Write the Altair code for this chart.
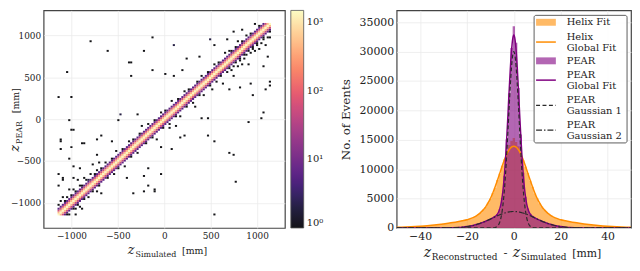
import altair as alt
import pandas as pd

FONT = "DejaVu Serif"

# ---------------- Left panel: 2D histogram z_PEAR vs z_Simulated ----------------
BIN_START = -1150
BIN_WIDTH = 23
N_BINS = 100
BAND_OFFSETS = [-3, -2, -1, 0, 1, 2, 3]
BAND_COUNTS = [6, 55, 480, 1400, 480, 55, 6]

FRINGE = [(0,5),(1,-5),(1,6),(2,-4),(2,7),(3,4),(3,-6),(4,5),(4,-4),(5,8),(5,-5),(6,4),(6,-7),
          (7,6),(7,-4),(8,4),(8,-5),(9,9),(9,-4),(10,5),(10,-6),(11,4),(11,-8),(12,7),(12,-4),
          (13,5),(14,-5),(14,4),(15,6),(16,-4),(16,10),(17,4),(18,-6),(18,5),(19,-4),(20,4),(20,-9),
          (22,5),(23,-4),(25,4),(26,-5),(27,6),(28,-4),(30,4),(31,-6),(33,5),(34,-4),(35,4),(37,-5),
          (38,4),(39,7),(41,-4),(42,5),(44,-4),(45,4),(46,-7),(48,5),(49,-4),(50,4),(52,-5),(53,6),
          (55,-4),(56,4),(57,-6),(59,5),(60,-4),(61,4),(63,-5),(64,-8),(65,4),(66,-4),(67,5),(68,-6),
          (70,4),(71,-4),(72,-7),(73,5),(74,-5),(75,4),(76,-4),(77,-9),(78,6),(79,-5),
          (80,-4),(80,5),(81,-6),(81,4),(82,-5),(82,-10),(83,4),(83,-4),(84,-7),(84,6),(85,-5),(85,-4),
          (86,4),(86,-8),(87,-4),(87,-6),(88,5),(88,-5),(89,-4),(89,-11),(90,4),(90,-6),(91,-5),(91,-4),
          (92,7),(92,-7),(93,-4),(93,-5),(94,4),(94,-8),(95,-6),(95,5),(96,-4),(96,-5),(97,4),(97,-9),
          (98,-6),(98,5),(99,-4),(99,-7)]

OUTLIER_X = [-791, -601, -383, -352, -360, -121, -117, -225, -1040, -1140, -1005, 100, 0, 100, 194,
             241, 383, 490, 546, 670, 753, 839, 925, 960, 1040, 1078, 1075, 1140, 1143, 1126, 915,
             749, 760, 466, 549, 540, 183, 69, -24, -104, -335, -221, -221, -497, -469, -563, -677,
             -718, -878, -1023, -967, -1008, -1029, -984, -1122, -1112, -1143, -1095, -909, -964,
             -808, -995, -1116, -863, -280, -477, -1150, -974, -1088, -725, -697, -442, -414, -166,
             -96, -173, 691, 805, 1081, 484, 96, 215, 413, 481, 130, 55, 710, -24]
OUTLIER_Y = [929, 812, 674, 674, 528, 973, 576, 827, 557, 273, 255, 896, 546, 528, 593,
             729, 746, 958, 893, 958, 1049, 1067, 430, 292, 22, 84, 631, 456, 412, 757, -44,
             -415, -747, -197, -273, -1130, -226, -346, -663, -852, -889, -689, -863, -11, 55, -262, -200,
             -244, -281, -19, -128, -325, -470, -561, -237, -364, -645, -718, -583, -1148,
             -718, -135, -262, -281, 58, 58, -790, -710, -700, -426, -517, -517, -707, -784,
             -838, -583, 347, 383, 347, 958, 893, -197, 3, 22, -80, -109, -412, -328]

cells = {}
for i in range(N_BINS):
    for off, c in zip(BAND_OFFSETS, BAND_COUNTS):
        j = i + off
        if 0 <= j < N_BINS:
            cells[(i, j)] = cells.get((i, j), 0) + c
for i, off in FRINGE:
    j = i + off
    if 0 <= j < N_BINS:
        cells[(i, j)] = cells.get((i, j), 0) + 1
for xv, yv in zip(OUTLIER_X, OUTLIER_Y):
    i = min(max(int((xv - BIN_START) // BIN_WIDTH), 0), N_BINS - 1)
    j = min(max(int((yv - BIN_START) // BIN_WIDTH), 0), N_BINS - 1)
    cells[(i, j)] = cells.get((i, j), 0) + 1

heat_df = pd.DataFrame([
    dict(x=BIN_START + i * BIN_WIDTH, x2=BIN_START + (i + 1) * BIN_WIDTH,
         y=BIN_START + j * BIN_WIDTH, y2=BIN_START + (j + 1) * BIN_WIDTH, count=c)
    for (i, j), c in cells.items()
])

LW, LH = 244, 220
lscale = alt.Scale(domain=[-1300, 1300], nice=False, zero=False)
heat = alt.Chart(heat_df).mark_rect(opacity=0.92).encode(
    x=alt.X("x:Q", scale=lscale, axis=alt.Axis(values=[-1000, -500, 0, 500, 1000], title=None,
                                                format="d", labelFontSize=9, labelPadding=4)),
    x2="x2:Q",
    y=alt.Y("y:Q", scale=lscale, axis=alt.Axis(values=[-1000, -500, 0, 500, 1000], title=None,
                                                format="d", labelFontSize=9, labelPadding=3)),
    y2="y2:Q",
    color=alt.Color("count:Q",
                    scale=alt.Scale(type="log", domain=[1, 1500], scheme="magma"),
                    legend=alt.Legend(title=None, orient="right", direction="vertical",
                                      gradientLength=LH, gradientThickness=13, offset=6,
                                      values=[1, 10, 100, 1000],
                                      labelExpr="datum.value == 1 ? '10⁰' : datum.value == 10 ? '10¹' : datum.value == 100 ? '10²' : '10³'",
                                      labelFont=FONT, labelFontSize=10, labelColor="#222",
                                      gradientStrokeColor="#444", gradientStrokeWidth=0.8,
                                      padding=0, labelOffset=3)),
)

one = pd.DataFrame({"a": [0]})


def txt(text, x, y, size, italic=False, angle=0, align="left"):
    kw = dict(text=text, font=FONT, fontSize=size, color="#222", align=align,
              baseline="alphabetic")
    if italic:
        kw["fontStyle"] = "italic"
    if angle:
        kw["angle"] = angle
    return alt.Chart(one).mark_text(**kw).encode(x=alt.value(x), y=alt.value(y))


lcx = LW / 2 + 3 - 40
lcy = LH / 2
left_titles = [
    txt("z", lcx, LH + 26, 13, italic=True),
    txt("Simulated", lcx + 8, LH + 29, 8),
    txt("[mm]", lcx + 55, LH + 26, 9.5),
    txt("z", -25, lcy + 33, 13, italic=True, angle=270),
    txt("PEAR", -22, lcy + 25, 8, angle=270),
    txt("[mm]", -25, lcy - 6, 9.5, angle=270),
]
left = alt.layer(heat, *left_titles).properties(width=LW, height=LH)

# ---------------- Right panel: residual histograms ----------------
HIST_X = list(range(-50, 51))
HELIX_HIST = [105, 128, 130, 148, 170, 178, 205, 215, 246, 260, 295, 315, 356, 380, 428, 452, 510, 540,
              600, 632, 700, 740, 812, 850, 935, 975, 1075, 1120, 1240, 1300, 1400, 1560, 1650, 1880,
              2050, 2380, 2650, 3150, 3550, 4300, 4950, 5950, 6850, 8150, 9200, 10600, 11700, 12900,
              14100, 14800, 15300, 14600, 13900, 12700, 11500, 10400, 9350, 8050, 7000, 5850, 5050,
              4200, 3650, 3080, 2720, 2330, 2100, 1830, 1700, 1520, 1430, 1310, 1230, 1130, 1070, 980,
              930, 850, 805, 740, 695, 635, 595, 540, 505, 455, 425, 380, 355, 318, 292, 262, 243, 218,
              202, 180, 167, 148, 137, 120, 112]
PEAR_HIST = [0, 0, 0, 0, 0, 0, 0, 0, 0, 0, 0, 0, 0, 0, 0,
             1, 2, 3, 5, 7, 11, 15, 22, 31, 43, 59, 80, 107, 141, 186, 237, 300, 378, 469, 590, 698,
             820, 988, 1170, 1327, 1490, 1690, 1930, 2330, 3180, 5150, 8900, 15100, 22900, 30600,
             34300,
             31500, 23800, 15900, 9400, 5300, 3300, 2400, 1990, 1740, 1530, 1340, 1160, 990, 850, 700,
             565, 470, 380, 300, 237, 186, 141, 107, 80, 59, 43, 31, 22, 15, 11, 7, 5, 3, 2, 1,
             0, 0, 0, 0, 0, 0, 0, 0, 0, 0, 0, 0, 0, 0, 0]

HELIX_FIT_X = [-50, -48, -46, -44, -42, -40, -38, -36, -34, -32, -30, -28, -26, -24, -22,
               -20, -19, -18, -17, -16, -15, -14, -13, -12, -11, -10, -9, -8, -7, -6, -5, -4, -3, -2, -1,
               0, 1, 2, 3, 4, 5, 6, 7, 8, 9, 10, 11, 12, 13, 14, 15, 16, 17, 18, 19, 20,
               22, 24, 26, 28, 30, 32, 34, 36, 38, 40, 42, 44, 46, 48, 50]
HELIX_FIT_Y = [110, 135, 165, 200, 240, 290, 350, 420, 500, 590, 690, 800, 920, 1060, 1220,
               1400, 1530, 1670, 1840, 2070, 2340, 2690, 3100, 3600, 4250, 5000, 5900, 6950, 8100,
               9300, 10500, 11600, 12550, 13300, 13750,
               13900, 13750, 13300, 12550, 11600, 10500, 9300, 8100, 6950, 5900, 5000, 4250, 3600,
               3100, 2690, 2340, 2070, 1840, 1670, 1530, 1400,
               1220, 1060, 920, 800, 690, 590, 500, 420, 350, 290, 240, 200, 165, 135, 110]

PEAR_FIT_X = [-50, -45, -40, -35, -30, -28, -26, -24, -22, -20,
              -19, -18, -17, -16, -15, -14, -13, -12, -11, -10, -9,
              -8, -7.5, -7, -6.5, -6, -5.5, -5, -4.5, -4, -3.5, -3, -2.5, -2, -1.5, -1, -0.5,
              0,
              0.5, 1, 1.5, 2, 2.5, 3, 3.5, 4, 4.5, 5, 5.5, 6, 6.5, 7, 7.5, 8,
              9, 10, 11, 12, 13, 14, 15, 16, 17, 18, 19,
              20, 22, 24, 26, 28, 30, 35, 40, 45, 50]
PEAR_G1 = [0, 0, 0, 0, 0, 0, 0, 0, 0, 0,
           0, 0, 0, 0, 0, 0, 0, 0, 0, 2, 14,
           71, 147, 293, 554, 1000, 1720, 2830, 4430, 6610, 9420, 12810, 16610, 20550, 24250, 27300, 29300,
           30000,
           29300, 27300, 24250, 20550, 16610, 12810, 9420, 6610, 4430, 2830, 1720, 1000, 554, 293, 147, 71,
           14, 2, 0, 0, 0, 0, 0, 0, 0, 0, 0,
           0, 0, 0, 0, 0, 0, 0, 0, 0, 0]
PEAR_G2 = [0, 0, 0, 1, 11, 22, 43, 80, 141, 237,
           300, 378, 469, 576, 698, 836, 988, 1151, 1327, 1510, 1699,
           1887, 1979, 2069, 2157, 2243, 2324, 2399, 2471, 2537, 2596, 2649, 2694, 2732, 2761, 2783, 2796,
           2800,
           2796, 2783, 2761, 2732, 2694, 2649, 2596, 2537, 2471, 2399, 2324, 2243, 2157, 2069, 1979, 1887,
           1699, 1510, 1327, 1151, 988, 836, 698, 576, 469, 378, 300,
           237, 141, 80, 43, 22, 11, 1, 0, 0, 0]
PEAR_GLOBAL = [0, 0, 0, 1, 11, 22, 43, 80, 141, 237,
               300, 378, 469, 576, 698, 836, 988, 1151, 1327, 1512, 1713,
               1958, 2126, 2362, 2711, 3243, 4044, 5229, 6901, 9147, 12016, 15459, 19304, 23282, 27011,
               30083, 32096,
               32800,
               32096, 30083, 27011, 23282, 19304, 15459, 12016, 9147, 6901, 5229, 4044, 3243, 2711, 2362,
               2126, 1958,
               1713, 1512, 1327, 1151, 988, 836, 698, 576, 469, 378, 300,
               237, 141, 80, 43, 22, 11, 1, 0, 0, 0]

ORANGE = "#ff8c00"
PURPLE = "#800080"
GREY = "#2b2b2b"

hist_df = pd.DataFrame({"x": HIST_X, "helix": HELIX_HIST, "pear": PEAR_HIST})
hfit_df = pd.DataFrame({"x": HELIX_FIT_X, "y": HELIX_FIT_Y})
pfit_df = pd.DataFrame({"x": PEAR_FIT_X, "glob": PEAR_GLOBAL, "g1": PEAR_G1, "g2": PEAR_G2})

RW, RH = 237, LH
rx = alt.X("x:Q", scale=alt.Scale(domain=[-50, 50], nice=False, zero=False),
           axis=alt.Axis(values=[-40, -20, 0, 20, 40], title=None, labelFontSize=11, labelPadding=3))


def ry(field):
    return alt.Y(f"{field}:Q", scale=alt.Scale(domain=[0, 37000], nice=False), stack=None,
                 axis=alt.Axis(values=list(range(0, 35001, 5000)), format="d", title="No. of Events",
                               labelFontSize=11, labelPadding=3, titleFont=FONT, titleFontSize=12,
                               titleFontWeight="normal", titleColor="#222", titlePadding=7))


helix_area = alt.Chart(hist_df).mark_area(interpolate="step", color=ORANGE, opacity=0.6, clip=True).encode(
    x=rx, y=ry("helix"))
pear_area = alt.Chart(hist_df).mark_area(interpolate="step", color=PURPLE, opacity=0.6, clip=True).encode(
    x=rx, y=ry("pear"))
helix_line = alt.Chart(hfit_df).mark_line(color=ORANGE, strokeWidth=1.5, interpolate="monotone", clip=True).encode(
    x=rx, y=ry("y"))
pear_line = alt.Chart(pfit_df).mark_line(color=PURPLE, strokeWidth=1.5, interpolate="monotone", clip=True).encode(
    x=rx, y=ry("glob"))
g1_line = alt.Chart(pfit_df).mark_line(color=GREY, strokeWidth=1.2, strokeDash=[4, 2.5],
                                       interpolate="monotone", clip=True).encode(x=rx, y=ry("g1"))
g2_line = alt.Chart(pfit_df).mark_line(color=GREY, strokeWidth=1.2, strokeDash=[6, 2, 1.5, 2],
                                       interpolate="monotone", clip=True).encode(x=rx, y=ry("g2"))

# legend (drawn by hand)
BX0, BX1 = RW - 98, RW - 4
SX0, SX1 = BX0 + 2, BX0 + 22
TX = BX0 + 33
leg = [
    alt.Chart(one).mark_rect(fill="white", stroke="#555", strokeWidth=1, cornerRadius=2, opacity=0.95).encode(
        x=alt.value(BX0), x2=alt.value(BX1), y=alt.value(5), y2=alt.value(134)),
    alt.Chart(one).mark_rect(fill=ORANGE, opacity=0.6).encode(
        x=alt.value(SX0), x2=alt.value(SX1), y=alt.value(8.5), y2=alt.value(15.5)),
    alt.Chart(one).mark_rule(color=ORANGE, strokeWidth=1.5).encode(
        x=alt.value(SX0), x2=alt.value(SX1), y=alt.value(32)),
    alt.Chart(one).mark_rect(fill=PURPLE, opacity=0.6).encode(
        x=alt.value(SX0), x2=alt.value(SX1), y=alt.value(47.5), y2=alt.value(54.5)),
    alt.Chart(one).mark_rule(color=PURPLE, strokeWidth=1.5).encode(
        x=alt.value(SX0), x2=alt.value(SX1), y=alt.value(70.5)),
    alt.Chart(one).mark_rule(color=GREY, strokeWidth=1.2, strokeDash=[4, 2.5]).encode(
        x=alt.value(SX0), x2=alt.value(SX1), y=alt.value(96)),
    alt.Chart(one).mark_rule(color=GREY, strokeWidth=1.2, strokeDash=[6, 2, 1.5, 2]).encode(
        x=alt.value(SX0), x2=alt.value(SX1), y=alt.value(121)),
]
LEG_LABELS = ["Helix Fit", "Helix", "Global Fit", "PEAR", "PEAR", "Global Fit",
              "PEAR", "Gaussian 1", "PEAR", "Gaussian 2"]
LEG_Y = [12, 26.5, 38, 51, 65, 76.5, 90.5, 102, 115.5, 127]
leg_df = pd.DataFrame({"label": LEG_LABELS, "py": LEG_Y})
leg_text = alt.Chart(leg_df).mark_text(font=FONT, fontSize=10, color="#222", align="left",
                                       baseline="middle").encode(
    x=alt.value(TX), y=alt.Y("py:Q", scale=None), text="label:N")

rcx = RW / 2 - 1.5 - 89.5
right_titles = [
    txt("z", rcx, RH + 29, 14, italic=True),
    txt("Reconstructed", rcx + 8, RH + 32, 9),
    txt("-", rcx + 82.5, RH + 29, 12, align="center"),
    txt("z", rcx + 90, RH + 29, 14, italic=True),
    txt("Simulated", rcx + 98, RH + 32, 9),
    txt("[mm]", rcx + 150, RH + 29, 11),
]

right = alt.layer(helix_area, pear_area, helix_line, pear_line, g1_line, g2_line,
                  *leg, leg_text, *right_titles).properties(width=RW, height=RH)

chart = alt.hconcat(left, right, spacing=14).resolve_scale(color="independent").properties(
    padding={"left": 0, "top": 0, "right": 0, "bottom": 0}
).configure_view(stroke="#444", strokeWidth=1.2).configure_axis(
    grid=True, gridColor="#ebebeb", gridWidth=0.8, domain=False, ticks=False,
    labelFont=FONT, labelColor="#222"
).configure_legend(gradientVerticalMaxLength=400)

chart.save("out.html", embed_options={"renderer": "svg", "actions": False})
